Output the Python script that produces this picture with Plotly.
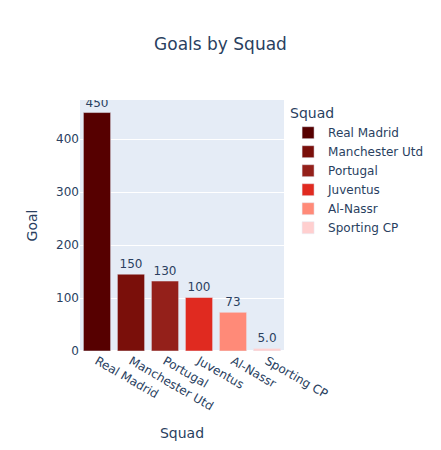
import plotly.graph_objects as go

squads = ["Real Madrid", "Manchester Utd", "Portugal", "Juventus", "Al-Nassr", "Sporting CP"]
goals = [450, 145, 132, 101, 73, 5]
colors = ["#560000", "#7a0f0a", "#94201a", "#e02a20", "#ff8a78", "#ffcfcf"]

fig = go.Figure()
for s, g, c in zip(squads, goals, colors):
    fig.add_trace(go.Bar(
        x=[s], y=[g], name=s, marker_color=c,
        texttemplate="%{y:.2s}", textposition="outside",
    ))

fig.update_layout(
    width=441, height=450,
    font=dict(family="DejaVu Sans, Verdana, sans-serif"),
    title=dict(text="Goals by Squad", x=0.5),
    barmode="relative",
    legend_title_text="Squad",
    xaxis=dict(title="Squad", categoryorder="array", categoryarray=squads),
    yaxis=dict(title="Goal"),
)
fig.write_html("out.html")
